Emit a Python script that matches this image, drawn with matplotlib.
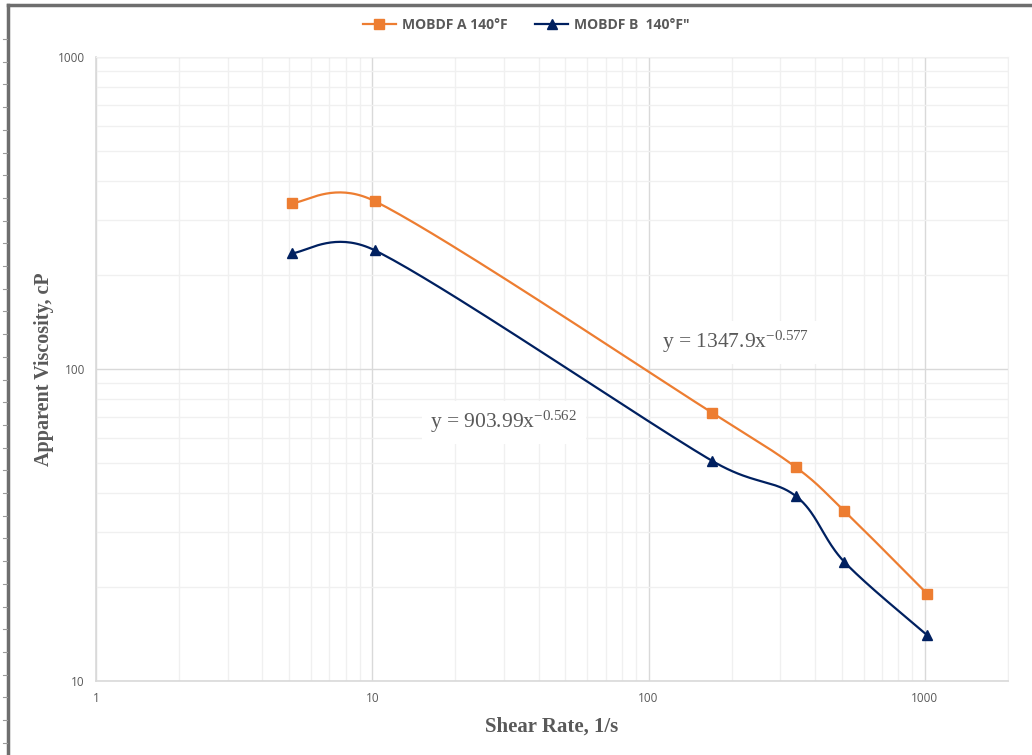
import numpy as np
import matplotlib
matplotlib.use("Agg")
import matplotlib.pyplot as plt
from matplotlib.lines import Line2D
from matplotlib.ticker import LogLocator, NullFormatter, FixedLocator

# DATA
shear_rate = [5.11, 10.22, 170.3, 340.6, 510.9, 1021.8]
visc_a = [340, 345, 72.3, 48.5, 35.1, 19.0]
visc_b = [235, 240, 50.7, 39.2, 24.1, 14.0]
labels = ["MOBDF A 140°F", "MOBDF B  140°F\""]
eq_a = ("y = 1347.9x", "-0.577")
eq_b = ("y = 903.99x", "-0.562")
xticks = [1, 10, 100, 1000]
yticks = [10, 100, 1000]

# STYLE
orange = "#ED7D31"
navy = "#002060"
grey_txt = "#595959"
plt.rcParams["mathtext.fontset"] = "custom"
plt.rcParams["mathtext.rm"] = "Liberation Serif"
plt.rcParams["mathtext.it"] = "Liberation Serif:italic"

W, H = 1032, 755
fig = plt.figure(figsize=(W / 100, H / 100), dpi=100)
L, R, T, B = 96, 1008, 57, 681
ax = fig.add_axes([L / W, (H - B) / H, (R - L) / W, (B - T) / H])

ax.set_xscale("log")
ax.set_yscale("log")
ax.set_xlim(1, 2000)
ax.set_ylim(10, 1000)


def smooth(xs, ys, n=40):
  # excel-like bezier smoothing in log space scaled to pixels
  px = np.log10(xs) * 276.0
  py = np.log10(ys) * 312.0
  pts = np.column_stack([px, py])
  out = []
  for i in range(len(pts) - 1):
    p0 = pts[i - 1] if i > 0 else pts[i]
    p1 = pts[i]
    p2 = pts[i + 1]
    p3 = pts[i + 2] if i + 2 < len(pts) else pts[i + 1]
    dx = p2[0] - p1[0]
    v1 = (p2 - p0) / 6.0
    v2 = (p3 - p1) / 6.0
    # keep handles inside the segment
    if v1[0] > dx / 2:
      v1 = v1 * (dx / 2) / v1[0]
    if v2[0] > dx / 2:
      v2 = v2 * (dx / 2) / v2[0]
    c1 = p1 + v1
    c2 = p2 - v2
    t = np.linspace(0, 1, n)[:, None]
    seg = (1 - t) ** 3 * p1 + 3 * (1 - t) ** 2 * t * c1 + 3 * (1 - t) * t ** 2 * c2 + t ** 3 * p2
    out.append(seg if i == 0 else seg[1:])
  out = np.vstack(out)
  return 10 ** (out[:, 0] / 276.0), 10 ** (out[:, 1] / 312.0)


sx, sy = smooth(shear_rate, visc_a)
ax.plot(sx, sy, color=orange, lw=1.6, zorder=3)
ax.plot(shear_rate, visc_a, ls="none", marker="s", ms=6.5, color=orange, zorder=4)
sx, sy = smooth(shear_rate, visc_b)
ax.plot(sx, sy, color=navy, lw=1.6, zorder=3)
ax.plot(shear_rate, visc_b, ls="none", marker="^", ms=7.5, color=navy, zorder=4)

# grid
ax.xaxis.set_major_locator(FixedLocator(xticks))
ax.yaxis.set_major_locator(FixedLocator(yticks))
ax.xaxis.set_minor_locator(LogLocator(base=10, subs=np.arange(2, 10)))
ax.yaxis.set_minor_locator(LogLocator(base=10, subs=np.arange(2, 10)))
ax.xaxis.set_minor_formatter(NullFormatter())
ax.yaxis.set_minor_formatter(NullFormatter())
ax.set_xticklabels([str(v) for v in xticks])
ax.set_yticklabels([str(v) for v in yticks])
ax.grid(True, which="major", color="#D9D9D9", lw=1.0, zorder=0)
ax.grid(True, which="minor", color="#F0F0F0", lw=1.0, zorder=0)
ax.set_axisbelow(True)
ax.tick_params(which="both", length=0, labelsize=8.5, labelcolor=grey_txt, pad=8)
for lab in ax.get_xticklabels() + ax.get_yticklabels():
  lab.set_family("Open Sans")
for s in ["top", "right"]:
  ax.spines[s].set_color("#F0F0F0")
for s in ["left", "bottom"]:
  ax.spines[s].set_color("#D9D9D9")
  ax.spines[s].set_linewidth(1.2)

ax.set_xlabel("Shear Rate, 1/s", family="Liberation Serif", weight="bold",
              fontsize=15, color=grey_txt, labelpad=8)
ax.set_ylabel("Apparent Viscosity, cP", family="Liberation Serif", weight="bold",
              fontsize=14.5, color=grey_txt, labelpad=3)

# trendline equations
box = dict(facecolor="white", edgecolor="none", pad=6)
for (base, power), xx, yy in [(eq_a, 112, 122), (eq_b, 16.2, 67.6)]:
  ax.text(xx, yy, base + r"$^{\mathrm{" + power + "}}$", family="Liberation Serif",
          fontsize=15.5, color=grey_txt, va="center", ha="left", bbox=box, zorder=2)

# legend
handles = [Line2D([], [], color=orange, lw=1.6, marker="s", ms=6.5),
           Line2D([], [], color=navy, lw=1.6, marker="^", ms=7.5)]
fig.legend(handles, labels, loc="center", bbox_to_anchor=(526 / W, 1 - 25 / H), ncol=2,
           frameon=False, handlelength=2.4, columnspacing=2.0, handletextpad=0.4,
           prop={"family": "Open Sans", "weight": "bold", "size": 10},
           labelcolor=grey_txt)

# outer frame lines
fig.add_artist(Line2D([8 / W, 8 / W], [0, 1 - 5 / H], color="#6E6E6E", lw=2.5))
fig.add_artist(Line2D([8 / W, 1], [1 - 5 / H, 1 - 5 / H], color="#6E6E6E", lw=2.5))
for yy in np.arange(39, 755, 22.7):
  fig.add_artist(Line2D([3 / W, 7 / W], [1 - yy / H, 1 - yy / H], color="#9A9A9A", lw=0.8))

fig.savefig("out.png", dpi=100)
